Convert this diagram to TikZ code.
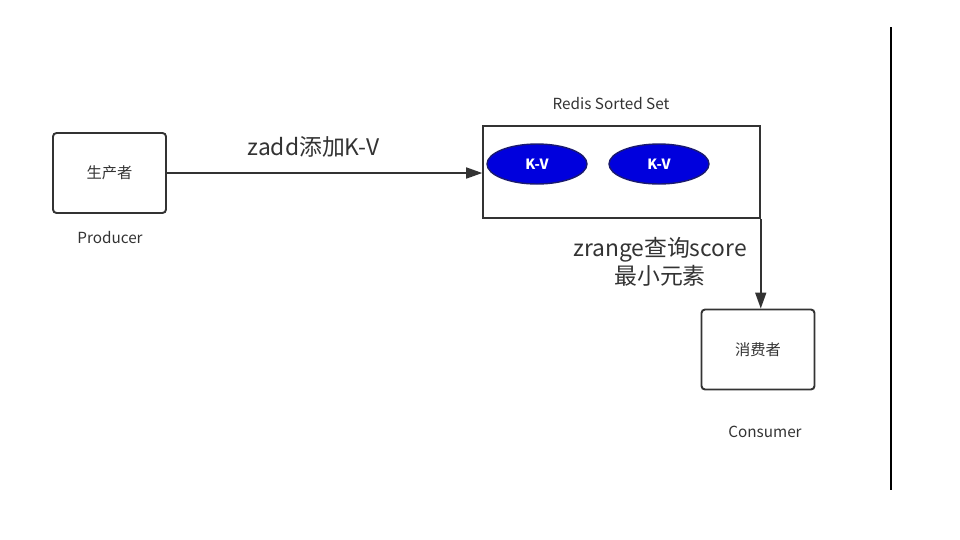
\documentclass[tikz,border=0pt]{standalone}
\usepackage{fontspec}
\setmainfont{Noto Sans CJK SC}
\usepackage{tikz}
\usetikzlibrary{arrows.meta, positioning, shapes.geometric}
\definecolor{linecolor}{HTML}{333333}
\definecolor{kvcolor}{HTML}{0000DD}
\definecolor{kvborder}{HTML}{1A1A70}
\definecolor{textcolor}{HTML}{333333}

\begin{document}
\begin{tikzpicture}[x=0.02cm, y=0.02cm,
    every node/.style={font=\fontsize{8.7pt}{10pt}\selectfont, align=center, text=textcolor},
    role/.style={draw=linecolor, rounded corners=2pt, line width=1.1pt,
                 minimum width=2.26cm, minimum height=1.6cm, inner sep=0pt},
    zset/.style={draw=linecolor, line width=0.9pt,
                 minimum width=5.54cm, minimum height=1.84cm, inner sep=0pt},
    kv/.style={ellipse, draw=kvborder, fill=kvcolor, line width=0.8pt,
               minimum width=2cm, minimum height=0.8cm, inner sep=0pt,
               text=white, font=\fontsize{8pt}{9pt}\selectfont\bfseries},
    oplabel/.style={font=\fontsize{13pt}{16pt}\selectfont},
    arr/.style={-{Stealth[length=3.2mm, width=2.2mm, inset=0pt]}, draw=linecolor, line width=0.9pt}
]
    \useasboundingbox (0,0) rectangle (960,-539);

    % Producer
    \node[role] (prod) at (109.5,-173) {生产者};
    \node (prodname) at (110,-238) {Producer};

    % Redis sorted set
    \node[zset] (zs) at (621.5,-172) {};
    \node (zsname) at (611,-104) {Redis Sorted Set};
    \node[kv] (kva) at (537,-164) {K-V};
    \node[kv] (kvb) at (659,-164) {K-V};

    % Consumer
    \node[role] (cons) at (758,-349.5) {消费者};
    \node (consname) at (765,-432) {Consumer};

    % Arrows
    \draw[arr] (prod.east) -- node[oplabel, above=5pt, xshift=-11*0.02cm] {zadd添加K-V} (prod.east -| zs.west);
    \draw[arr] (zs.south east) -- (zs.south east |- cons.north);
    \node[oplabel] (zrlabel) at (660,-262) {zrange查询score\\最小元素};

    % Right margin rule
    \coordinate (ruletop) at (891,-27);
    \coordinate (rulebot) at (891,-490);
    \draw[black, line width=1.3pt] (ruletop) -- (rulebot);
\end{tikzpicture}
\end{document}
